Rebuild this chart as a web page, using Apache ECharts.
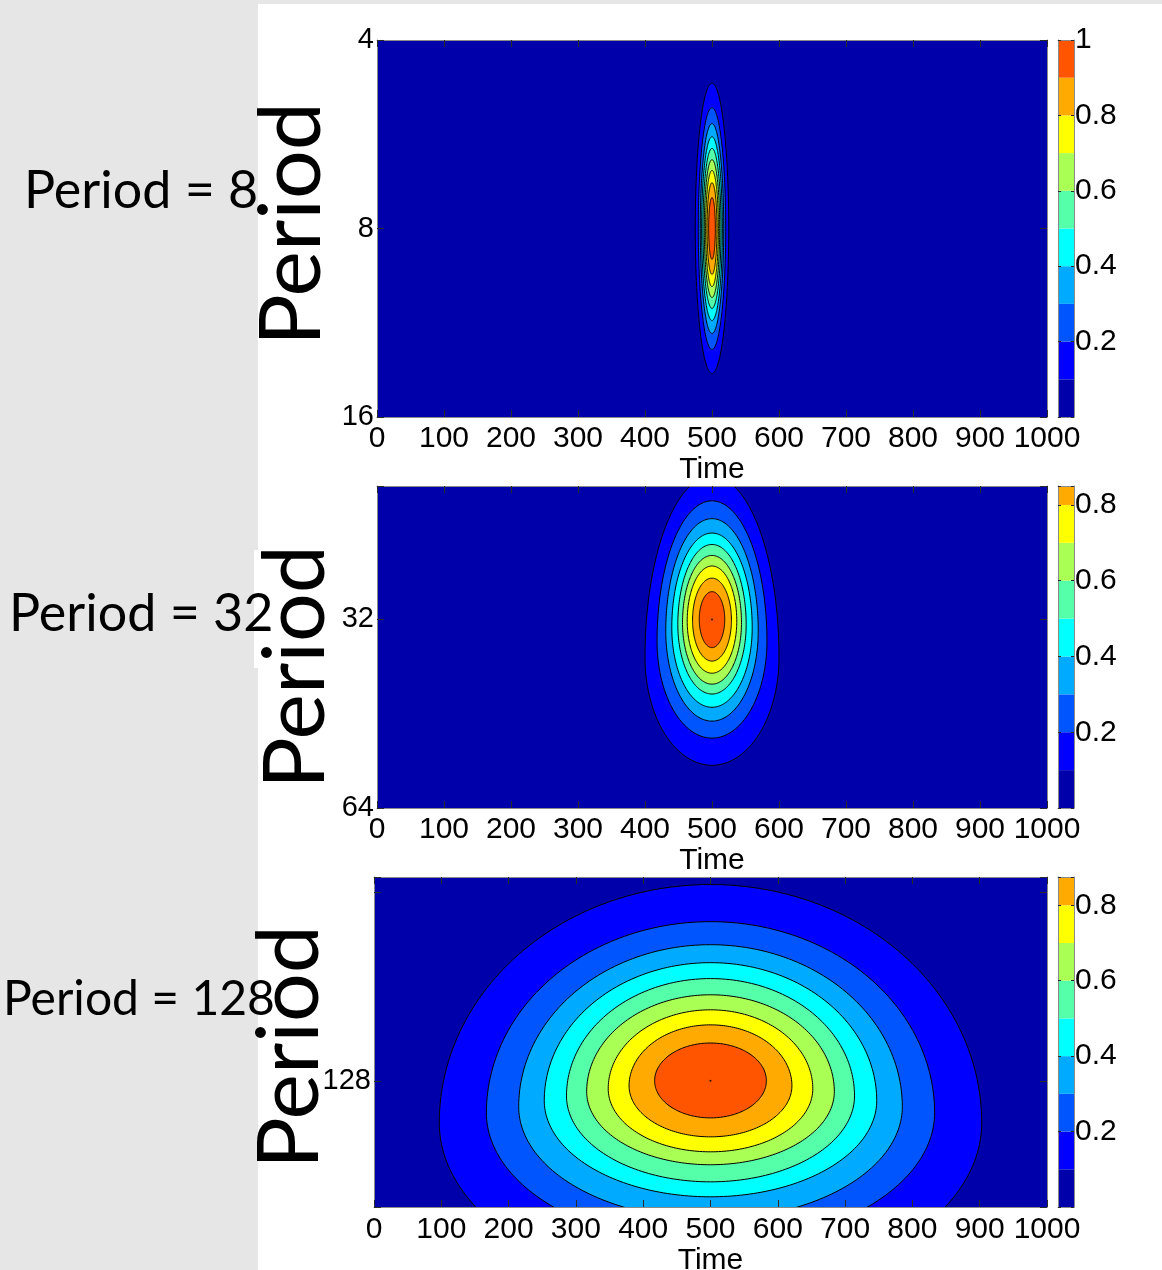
<!DOCTYPE html>
<html><head><meta charset="utf-8">
<script src="https://cdn.jsdelivr.net/npm/echarts@6/dist/echarts.min.js"></script>
<style>html,body{margin:0;padding:0;background:#fff}#c{width:1162px;height:1270px}</style>
</head><body><div id="c"></div>
<script>
// ---------- data ----------
// contour fill colours (band below 0.1, then one per contour level 0.1 ... 0.9)
const levelColors = ['#0000aa','#0000ff','#0055ff','#00aaff','#00ffff','#55ffaa','#aaff55','#ffff00','#ffaa00','#ff5500'];
const levelValues = [0.1,0.2,0.3,0.4,0.5,0.6,0.7,0.8,0.9];
const centreTime = [500, 500, 500];

// Panel 1 (Period = 8): each contour's top period, period where it is widest, bottom period, half width in time
const p1Top    = [4.69, 5.13, 5.44, 5.71, 5.96, 6.21, 6.46, 6.76, 7.14];
const p1Wide   = [8, 8, 8, 8, 8, 8, 8, 8, 8];
const p1Bottom = [13.63, 12.48, 11.77, 11.22, 10.73, 10.31, 9.91, 9.47, 8.96];
const p1Half   = [25, 20.5, 17.5, 15.5, 13.5, 11.5, 9.5, 7.5, 5];

// Panel 2 (Period = 32)
const p2Top    = [18.9, 20.7, 22.1, 23.3, 24.3, 25.3, 26.3, 27.5, 28.9];
const p2Wide   = [36.8, 34.7, 33.4, 33.0, 32.6, 32.4, 32.2, 32.1, 32];
const p2Bottom = [54.7, 49.5, 46.5, 44.2, 42.1, 40.6, 39.0, 37.3, 35.5];
const p2Half   = [100, 82, 69, 60, 51, 44, 37, 29, 19];

// Panel 3 (Period = 128)
const p3Top    = [62.2, 71.3, 77.6, 82.9, 87.9, 93.3, 98.6, 104.2, 111.4];
const p3Wide   = [149.4, 144.0, 140.8, 137.7, 135.3, 133.2, 131.8, 130.4, 128];
const p3Bottom = [277, 234, 213, 196.1, 185.6, 174.3, 166.2, 157.3, 146.7];
const p3Half   = [403, 333, 285, 247, 214, 184, 152, 121, 83];

// axes
const timeRange = [0, 1000];
const timeInterval = 100;
const periodRanges = [[4, 16], [19.6, 64], [60.5, 203.6]];
const periodTickLabels = [[4, 8, 16], [32, 64], [128]];
const peakPoints = [[], [[500, 32]], [[500, 128]]];
const colorbarMax = [1, 0.85, 0.875];
const colorbarTicks = [[0.2, 0.4, 0.6, 0.8, 1], [0.2, 0.4, 0.6, 0.8], [0.2, 0.4, 0.6, 0.8]];
const panelTitles = ['Period = 8', 'Period = 32', 'Period = 128'];
const axisTitleX = 'Time';
const axisTitleY = 'Period';

// ---------- build ----------
const contourSets = [
  [p1Top, p1Wide, p1Bottom, p1Half],
  [p2Top, p2Wide, p2Bottom, p2Half],
  [p3Top, p3Wide, p3Bottom, p3Half]
];
function contourData(k) {
  const [tp, wd, bt, hw] = contourSets[k];
  return levelValues.map((v, i) => [i + 1, centreTime[k], tp[i], wd[i], bt[i], hw[i]]);
}
const cbData = [[0, levelValues[0], 0]].concat(levelValues.map((v, i) => [v, i + 1 < levelValues.length ? levelValues[i + 1] : 1, i + 1]));

const FONT = '"Liberation Sans", Arial, Helvetica, sans-serif';
const AX = '#8a8a8a';
const TK = '#2a2a2a';

const plotGrids = [
  {left: 377, top: 40, width: 670, height: 377},
  {left: 377, top: 486, width: 670, height: 322},
  {left: 374, top: 877, width: 673, height: 330}
];
const labelMargins = [7, 7, 8];
const nameGaps = [34, 31, 29];

const grids = [], xAxes = [], yAxes = [], series = [];
plotGrids.forEach((g, k) => {
  grids.push(Object.assign({show: true, backgroundColor: levelColors[0], borderWidth: 0,
    containLabel: false, outerBoundsMode: 'none'}, g));
});
plotGrids.forEach((g, k) => {
  grids.push({left: 1058, width: 16, top: g.top, height: g.height, show: false,
    containLabel: false, outerBoundsMode: 'none'});
});

function near(list, v) { return list.find(t => Math.abs(t - v) <= Math.abs(t) * 1e-3 + 1e-9); }

plotGrids.forEach((g, k) => {
  // bottom time axis
  xAxes.push({gridIndex: k, type: 'value', min: timeRange[0], max: timeRange[1], interval: timeInterval,
    position: 'bottom', z: 5,
    axisLine: {show: true, onZero: false, lineStyle: {color: AX, width: 1}},
    axisTick: {show: true, inside: true, length: 7, lineStyle: {color: TK}},
    axisLabel: {fontSize: 30, color: '#000', fontFamily: FONT, margin: labelMargins[k], showMinLabel: true, showMaxLabel: true,
      formatter: v => String(v)},
    splitLine: {show: false},
    name: axisTitleX, nameLocation: 'middle', nameGap: nameGaps[k],
    nameTextStyle: {fontSize: 30, color: '#000', fontFamily: FONT}});
  // top mirror
  xAxes.push({gridIndex: k, type: 'value', min: timeRange[0], max: timeRange[1], interval: timeInterval,
    position: 'top', z: 5,
    axisLine: {show: true, onZero: false, lineStyle: {color: AX, width: 1}},
    axisTick: {show: true, inside: true, length: 7, lineStyle: {color: TK}},
    axisLabel: {show: false}, splitLine: {show: false}});
  const labels = periodTickLabels[k];
  yAxes.push({gridIndex: k, type: 'log', logBase: 2, min: periodRanges[k][0], max: periodRanges[k][1],
    inverse: true, position: 'left', z: 5,
    axisLine: {show: true, onZero: false, lineStyle: {color: AX, width: 1}},
    axisTick: {show: true, inside: true, length: 7, lineStyle: {color: TK}},
    axisLabel: {fontSize: 29, color: '#000', fontFamily: FONT, margin: 3, padding: [5, 0, 0, 0],
      showMinLabel: true, showMaxLabel: true,
      formatter: v => { const t = near(labels, v); return t === undefined ? '' : String(t); }},
    splitLine: {show: false}});
  yAxes.push({gridIndex: k, type: 'log', logBase: 2, min: periodRanges[k][0], max: periodRanges[k][1],
    inverse: true, position: 'right', z: 5,
    axisLine: {show: true, onZero: false, lineStyle: {color: AX, width: 1}},
    axisTick: {show: true, inside: true, length: 7, lineStyle: {color: TK}},
    axisLabel: {show: false}, splitLine: {show: false}});
});

// colorbar axes
plotGrids.forEach((g, k) => {
  const gi = 3 + k;
  xAxes.push({gridIndex: gi, type: 'value', min: 0, max: 1, position: 'bottom', z: 5,
    axisLine: {show: true, onZero: false, lineStyle: {color: AX}}, axisTick: {show: false}, axisLabel: {show: false}, splitLine: {show: false}});
  xAxes.push({gridIndex: gi, type: 'value', min: 0, max: 1, position: 'top', z: 5,
    axisLine: {show: true, onZero: false, lineStyle: {color: AX}}, axisTick: {show: false}, axisLabel: {show: false}, splitLine: {show: false}});
  const ticks = colorbarTicks[k];
  yAxes.push({gridIndex: gi, type: 'value', min: 0, max: colorbarMax[k], interval: 0.2, position: 'right', z: 5,
    axisLine: {show: true, onZero: false, lineStyle: {color: AX}},
    axisTick: {show: true, inside: true, length: 3, lineStyle: {color: TK}},
    axisLabel: {fontSize: 30, color: '#000', fontFamily: FONT, margin: 1, padding: [5, 0, 0, 0],
      showMinLabel: true, showMaxLabel: true,
      formatter: v => { const t = near(ticks, v); return t === undefined ? '' : String(t); }},
    splitLine: {show: false}});
  yAxes.push({gridIndex: gi, type: 'value', min: 0, max: colorbarMax[k], interval: 0.2, position: 'left', z: 5,
    axisLine: {show: true, onZero: false, lineStyle: {color: AX}},
    axisTick: {show: true, inside: true, length: 3, lineStyle: {color: TK}},
    axisLabel: {show: false}, splitLine: {show: false}});
});

function contourItem(params, api) {
  const lvl = api.value(0), tc = api.value(1), pTop = api.value(2), pWide = api.value(3), pBot = api.value(4), hw = api.value(5);
  const c = api.coord([tc, pWide]);
  const t = api.coord([tc, pTop]);
  const b = api.coord([tc, pBot]);
  const r = api.coord([tc + hw, pWide]);
  const rx = r[0] - c[0], a1 = Math.abs(c[1] - t[1]), a2 = Math.abs(b[1] - c[1]);
  const pts = [];
  const N = 240;
  for (let i = 0; i < N; i++) {
    const th = 2 * Math.PI * i / N, s = Math.sin(th);
    pts.push([c[0] + rx * Math.cos(th), c[1] - (s >= 0 ? a1 : a2) * s]);
  }
  return {type: 'polygon', shape: {points: pts},
    style: {fill: levelColors[lvl], stroke: '#000', lineWidth: 1}};
}
function cbItem(params, api) {
  const lo = api.value(0), hi = api.value(1), ci = api.value(2);
  const a = api.coord([0, hi]), b = api.coord([1, lo]);
  return {type: 'rect', shape: {x: a[0], y: a[1], width: b[0] - a[0], height: b[1] - a[1]},
    style: {fill: levelColors[ci]}};
}

plotGrids.forEach((g, k) => {
  series.push({type: 'custom', xAxisIndex: 2 * k, yAxisIndex: 2 * k, clip: true,
    renderItem: contourItem, encode: {x: [1], y: [2, 3, 4]}, data: contourData(k), silent: true});
  if (peakPoints[k].length) {
    series.push({type: 'scatter', xAxisIndex: 2 * k, yAxisIndex: 2 * k, symbolSize: 2,
      itemStyle: {color: '#000'}, data: peakPoints[k], silent: true, z: 4});
  }
  series.push({type: 'custom', xAxisIndex: 6 + 2 * k, yAxisIndex: 6 + 2 * k, clip: true,
    renderItem: cbItem, encode: {x: [], y: [0, 1]}, data: cbData, silent: true});
});

const labelFont = 'Lato, "Open Sans", sans-serif';
const graphic = [
  {type: 'rect', shape: {x: 0, y: 0, width: 258, height: 1270}, style: {fill: '#e6e6e6'}, z: -1},
  {type: 'rect', shape: {x: 0, y: 0, width: 1162, height: 4}, style: {fill: '#e6e6e6'}, z: -1},
  {type: 'rect', shape: {x: 254, y: 550, width: 76, height: 118}, style: {fill: '#ffffff'}, z: -1},
  {type: 'text', x: 292, y: 224, rotation: Math.PI / 2, style: {text: axisTitleY, font: '86px ' + labelFont, fill: '#000', align: 'center', verticalAlign: 'middle'}},
  {type: 'text', x: 296, y: 667, rotation: Math.PI / 2, style: {text: axisTitleY, font: '86px ' + labelFont, fill: '#000', align: 'center', verticalAlign: 'middle'}},
  {type: 'text', x: 290, y: 1047, rotation: Math.PI / 2, style: {text: axisTitleY, font: '86px ' + labelFont, fill: '#000', align: 'center', verticalAlign: 'middle'}},
  {type: 'text', x: 24, y: 191, style: {text: panelTitles[0], font: '52px ' + labelFont, fill: '#000', align: 'left', verticalAlign: 'middle'}},
  {type: 'text', x: 9, y: 614, style: {text: panelTitles[1], font: '52px ' + labelFont, fill: '#000', align: 'left', verticalAlign: 'middle'}},
  {type: 'text', x: 3, y: 1000, style: {text: panelTitles[2], font: '48px ' + labelFont, fill: '#000', align: 'left', verticalAlign: 'middle'}}
];

const chart = echarts.init(document.getElementById('c'), null, {renderer: 'canvas'});
chart.setOption({
  animation: false,
  backgroundColor: '#ffffff',
  grid: grids, xAxis: xAxes, yAxis: yAxes, series: series, graphic: graphic
});
</script>
</body></html>
